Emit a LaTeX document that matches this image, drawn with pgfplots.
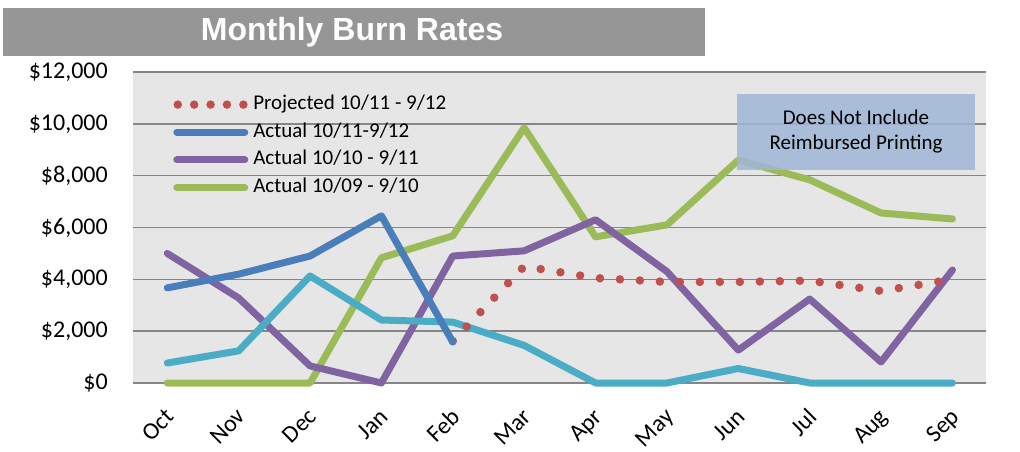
\documentclass[border=0pt]{standalone}
\usepackage{fontspec}
\setmainfont{Carlito}
\newfontfamily\titlefont{Liberation Sans}
\usepackage{pgfplots}
\pgfplotsset{compat=1.18}
\definecolor{bgc}{RGB}{230,230,230}
\definecolor{gridc}{RGB}{134,134,134}
\definecolor{titlegray}{RGB}{150,150,150}
\definecolor{cblue}{RGB}{74,126,187}
\definecolor{cpurple}{RGB}{128,100,162}
\definecolor{cgreen}{RGB}{155,187,89}
\definecolor{ccyan}{RGB}{75,172,198}
\definecolor{cred}{RGB}{192,80,77}
\definecolor{cnote}{RGB}{160,182,214}
\begin{document}
\begin{tikzpicture}
\useasboundingbox (-133pt,-68pt) rectangle (887pt,383pt);
\fill[titlegray] (-130pt,327pt) rectangle (572pt,375pt);
\node[text=white] at (219pt,351pt) {\titlefont\bfseries\fontsize{32}{32}\selectfont Monthly Burn Rates};
\begin{axis}[
  at={(0pt,0pt)}, anchor=south west,
  scale only axis, width=853pt, height=311pt,
  xmin=-0.48, xmax=11.47, ymin=0, ymax=12000,
  clip=false,
  scaled y ticks=false,
  axis background/.style={fill=bgc},
  axis line style={draw=none},
  major tick length=0pt,
  ymajorgrids, grid style={gridc, line width=1.5pt},
  ytick={0,2000,4000,6000,8000,10000,12000},
  yticklabels={\$0,{\$2,000},{\$4,000},{\$6,000},{\$8,000},{\$10,000},{\$12,000}},
  yticklabel style={font=\fontsize{24}{24}\selectfont, inner sep=0pt, anchor=east, xshift=-25pt},
  xtick={0,1,2,3,4,5,6,7,8,9,10,11},
  xticklabels={Oct,Nov,Dec,Jan,Feb,Mar,Apr,May,Jun,Jul,Aug,Sep},
  xticklabel style={font=\fontsize{24}{24}\selectfont, inner sep=0pt, xshift=-3pt, yshift=-24pt, rotate=45, anchor=north east},
  reverse legend,
  legend cell align=left,
  legend style={at={(axis description cs:0.047,0.928)}, anchor=north west, draw=none, fill=none, inner sep=0pt,
    font=\fontsize{21}{21}\selectfont, row sep=7.7pt,
    nodes={inner sep=0pt, text height=15pt, text depth=5pt},
    /tikz/every odd column/.append style={column sep=5pt}},
  every axis plot/.append style={line width=7pt, line join=round, line cap=round},
]
\addplot[cgreen, mark=none, legend image code/.code={\draw[cgreen, line width=7pt, line cap=round] (3.5pt,0pt) -- (71.5pt,0pt);}] coordinates {(0,0)(1,0)(2,0)(3,4830)(4,5680)(5,9850)(6,5640)(7,6100)(8,8600)(9,7840)(10,6560)(11,6330)};
\addlegendentry{Actual 10/09 - 9/10}
\addplot[cpurple, mark=none, legend image code/.code={\draw[cpurple, line width=7pt, line cap=round] (3.5pt,0pt) -- (71.5pt,0pt);}] coordinates {(0,5000)(1,3280)(2,660)(3,0)(4,4900)(5,5100)(6,6300)(7,4300)(8,1270)(9,3240)(10,810)(11,4360)};
\addlegendentry{Actual 10/10 - 9/11}
\addplot[ccyan, mark=none, forget plot] coordinates {(0,770)(1,1240)(2,4130)(3,2430)(4,2350)(5,1450)(6,0)(7,0)(8,560)(9,0)(10,0)(11,0)};
\addplot[cred, mark=none, forget plot, line width=8.5pt, dash pattern=on 0pt off 20pt] coordinates {(4,1620)(5,4500)(6,4050)(7,3900)(8,3900)(9,3950)(10,3550)(11,4000)};
\addplot[cblue, mark=none, legend image code/.code={\draw[cblue, line width=7pt, line cap=round] (3.5pt,0pt) -- (71.5pt,0pt);}] coordinates {(0,3670)(1,4200)(2,4900)(3,6450)(4,1580)};
\addlegendentry{Actual 10/11-9/12}
\addlegendimage{legend image code/.code={\draw[cred, line width=8.5pt, line cap=round, dash pattern=on 0pt off 16.4pt] (4.5pt,0pt) -- (70.5pt,0pt);}}
\addlegendentry{Projected 10/11 - 9/12}
\end{axis}
\fill[cnote, fill opacity=0.85] (604pt,213pt) rectangle (842pt,289pt);
\node[align=center, font=\fontsize{21}{25}\selectfont] at (723pt,251pt) {Does Not Include\\Reimbursed Printing};
\end{tikzpicture}
\end{document}
